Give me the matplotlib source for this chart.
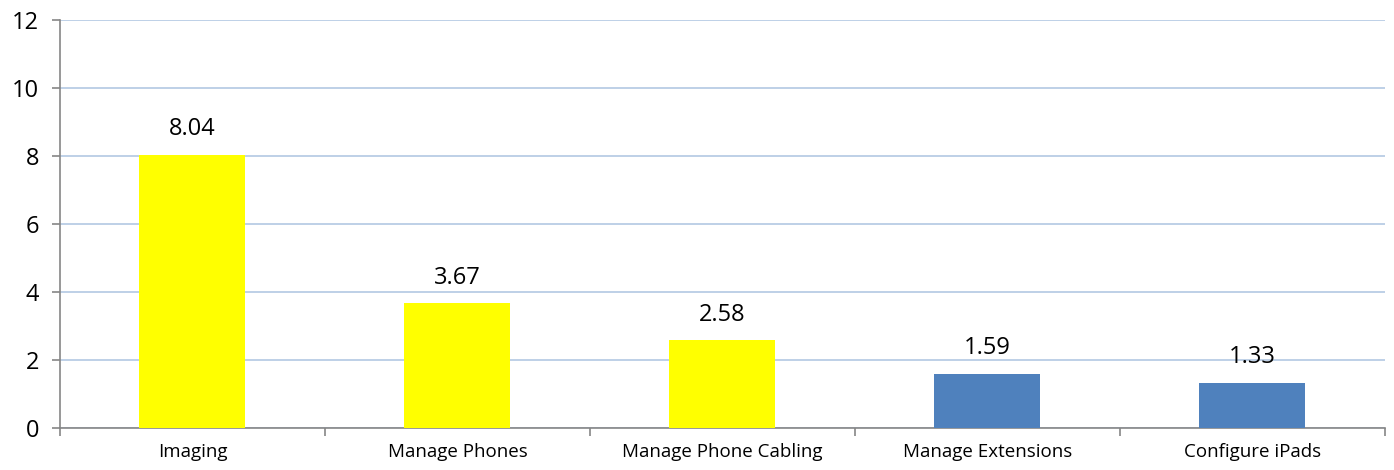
import matplotlib.pyplot as plt
import numpy as np

categories = ["Imaging", "Manage Phones", "Manage Phone Cabling", "Manage Extensions", "Configure iPads"]
values = [8.04, 3.67, 2.58, 1.59, 1.33]
bar_colors = ["#ffff00", "#ffff00", "#ffff00", "#4f81bd", "#4f81bd"]
y_ticks = [0, 2, 4, 6, 8, 10, 12]

plt.rcParams["font.family"] = ["Open Sans", "DejaVu Sans"]

fig = plt.figure(figsize=(13.94, 4.70), dpi=100)
ax = fig.add_axes([0.043, 0.0894, 0.9505, 0.868])

x = np.arange(len(categories))
ax.bar(x, values, width=0.4, color=bar_colors, zorder=3)

for xi, v in zip(x, values):
    ax.text(xi, v + 0.4, f"{v:.2f}", ha="center", va="bottom", fontsize=17, color="black", zorder=4)

ax.set_xlim(-0.5, len(categories) - 0.5)
ax.set_ylim(0, 12)
ax.set_yticks(y_ticks)
ax.set_yticklabels([str(t) for t in y_ticks], fontsize=17)
ax.yaxis.grid(True, color="#b9cde5", linewidth=1.3, zorder=0)

# category labels centred, tick marks between categories
ax.set_xticks(x)
ax.set_xticklabels(categories, fontsize=13.5)
ax.tick_params(axis="x", length=0, pad=11)
ax.set_xticks(np.arange(-0.5, len(categories)), minor=True)
ax.tick_params(axis="x", which="minor", length=6, width=1.2, color="#868686", direction="out")
ax.tick_params(axis="y", length=6, width=1.2, color="#868686", direction="out", pad=9)

for side in ["top", "right"]:
    ax.spines[side].set_visible(False)
for side in ["left", "bottom"]:
    ax.spines[side].set_color("#868686")
    ax.spines[side].set_linewidth(1.2)

fig.savefig("out.png", dpi=100)
